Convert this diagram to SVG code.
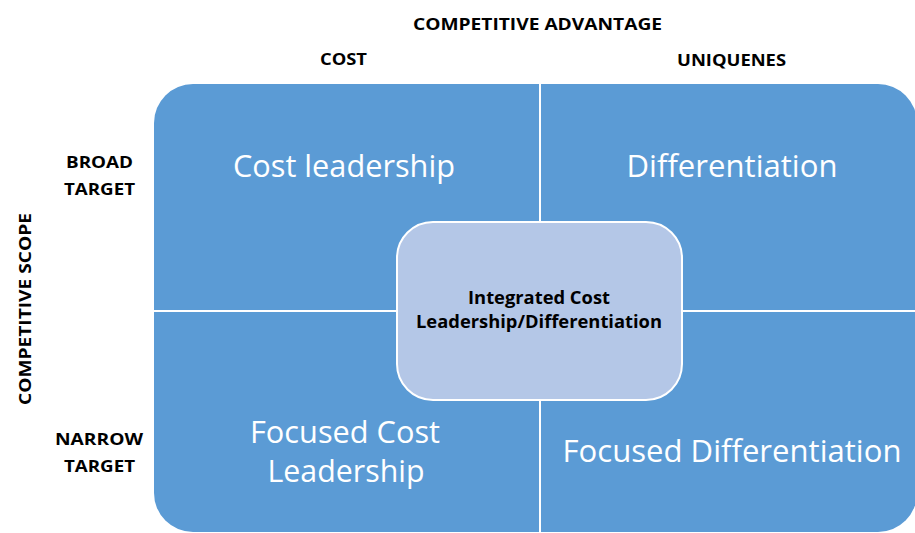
<svg xmlns="http://www.w3.org/2000/svg" width="915" height="533" viewBox="0 0 915 533">
<style>
.q{fill:#5b9bd5}
.hd{font-family:"Open Sans","Liberation Sans",sans-serif;font-weight:bold;font-size:16px;fill:#000}
.big{font-family:"Open Sans","Liberation Sans",sans-serif;font-size:31px;fill:#fff;text-anchor:middle}
.mid{font-family:"Open Sans","Liberation Sans",sans-serif;font-weight:bold;font-size:17.5px;fill:#000;text-anchor:middle}
</style>
<rect width="915" height="533" fill="#fff"/>
<g id="labels">
<text class="hd" x="413" y="30" textLength="249" lengthAdjust="spacingAndGlyphs">COMPETITIVE ADVANTAGE</text>
<text class="hd" x="320" y="65" textLength="47" lengthAdjust="spacingAndGlyphs">COST</text>
<text class="hd" x="677" y="66" textLength="109" lengthAdjust="spacingAndGlyphs">UNIQUENES</text>
<text class="hd" x="66" y="168" textLength="67" lengthAdjust="spacingAndGlyphs">BROAD</text>
<text class="hd" x="64" y="195" textLength="71" lengthAdjust="spacingAndGlyphs">TARGET</text>
<text class="hd" x="55" y="445" textLength="88" lengthAdjust="spacingAndGlyphs">NARROW</text>
<text class="hd" x="64" y="472" textLength="71" lengthAdjust="spacingAndGlyphs">TARGET</text>
<text class="hd" transform="translate(31,405) rotate(-90)" x="0" y="0" textLength="192" lengthAdjust="spacingAndGlyphs">COMPETITIVE SCOPE</text>
</g>
<g id="cost-leadership">
<path class="q" d="M154,310 V123 A39,39 0 0 1 193,84 H539 V310 Z"/>
<text class="big" x="344" y="177" textLength="222" lengthAdjust="spacingAndGlyphs">Cost leadership</text>
</g>
<g id="differentiation">
<path class="q" d="M541,84 H878 A39,39 0 0 1 917,123 V310 H541 Z"/>
<text class="big" x="732" y="177" textLength="211" lengthAdjust="spacingAndGlyphs">Differentiation</text>
</g>
<g id="focused-cost-leadership">
<path class="q" d="M154,312 H539 V532 H193 A39,39 0 0 1 154,493 Z"/>
<text class="big" x="345" y="443" textLength="190" lengthAdjust="spacingAndGlyphs">Focused Cost</text>
<text class="big" x="346" y="482" textLength="157" lengthAdjust="spacingAndGlyphs">Leadership</text>
</g>
<g id="focused-differentiation">
<path class="q" d="M541,312 H917 V493 A39,39 0 0 1 878,532 H541 Z"/>
<text class="big" x="732" y="462" textLength="339" lengthAdjust="spacingAndGlyphs">Focused Differentiation</text>
</g>
<g id="integrated">
<rect x="397" y="222" width="285" height="178" rx="36" ry="36" fill="#b4c7e7" stroke="#fff" stroke-width="2"/>
<text class="mid" x="539" y="304" textLength="142" lengthAdjust="spacingAndGlyphs">Integrated Cost</text>
<text class="mid" x="539" y="328" textLength="246" lengthAdjust="spacingAndGlyphs">Leadership/Differentiation</text>
</g>
<g id="connectors"></g>
</svg>
